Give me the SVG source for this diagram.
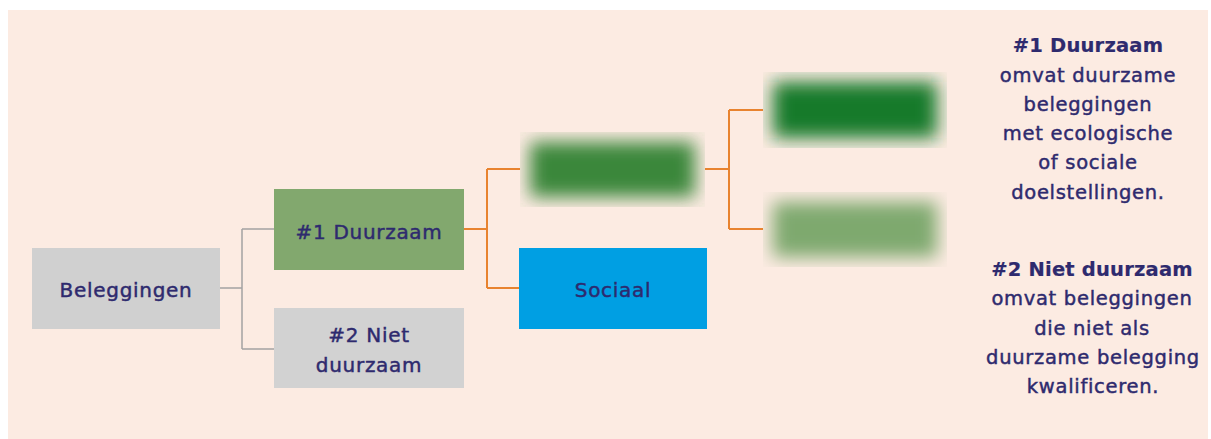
<svg xmlns="http://www.w3.org/2000/svg" width="1211" height="439" viewBox="0 0 1211 439">
<style>
.t{font-family:"DejaVu Sans","Liberation Sans",sans-serif;font-size:20px;fill:#2E2A6E;stroke:#2E2A6E;stroke-width:0.45px;text-anchor:middle;letter-spacing:0.7px}
.d{font-family:"DejaVu Sans","Liberation Sans",sans-serif;font-size:19.5px;fill:#2E2A6E;stroke:#2E2A6E;stroke-width:0.45px;text-anchor:middle;letter-spacing:0.7px}
.b{font-weight:bold;letter-spacing:0.2px;stroke-width:0.2px}
.gray{fill:none;stroke:#A3A3A3;stroke-width:1.5}
.orange{fill:none;stroke:#E8832F;stroke-width:2}
</style>
<defs>
<filter id="blur1" filterUnits="userSpaceOnUse" x="520" y="132" width="185" height="75"><feGaussianBlur stdDeviation="9"/></filter>
<filter id="blur2" filterUnits="userSpaceOnUse" x="763" y="72" width="184" height="76"><feGaussianBlur stdDeviation="9"/></filter>
<filter id="blur3" filterUnits="userSpaceOnUse" x="763" y="192" width="184" height="75"><feGaussianBlur stdDeviation="9"/></filter>
</defs>
<rect x="0" y="0" width="1211" height="439" fill="#FFFFFF"/>
<rect x="8" y="10" width="1200" height="429" fill="#FCEBE2"/>
<g id="connectors">
<path class="gray" d="M220 288 H242 M242 229 V349 M242 229 H274 M242 349 H274"/>
<path class="orange" d="M464 229 H487 M487 169 V288 M487 169 H520 M487 288 H519"/>
<path class="orange" d="M705 169 H729 M729 110 V229 M729 110 H763 M729 229 H763"/>
</g>
<g id="node-beleggingen">
<rect x="32" y="248" width="188" height="81" fill="#D0D0D0"/>
<text class="t" x="126" y="297">Beleggingen</text>
</g>
<g id="node-duurzaam">
<rect x="274" y="189" width="190" height="81" fill="#82A86E"/>
<text class="t" x="369" y="239">#1 Duurzaam</text>
</g>
<g id="node-niet-duurzaam">
<rect x="274" y="308" width="190" height="80" fill="#D2D2D2"/>
<text class="t" x="369" y="342">#2 Niet</text>
<text class="t" x="369" y="372">duurzaam</text>
</g>
<g id="node-blur-1">
<rect x="530" y="142" width="165" height="55" fill="#3A873A" filter="url(#blur1)"/>
</g>
<g id="node-sociaal">
<rect x="519" y="248" width="188" height="81" fill="#009FE3"/>
<text class="t" x="613" y="297">Sociaal</text>
</g>
<g id="node-blur-2">
<rect x="773" y="82" width="164" height="56" fill="#127A29" filter="url(#blur2)"/>
</g>
<g id="node-blur-3">
<rect x="773" y="202" width="164" height="55" fill="#7EA96E" filter="url(#blur3)"/>
</g>
<g id="legend">
<text class="d b" x="1088" y="52">#1 Duurzaam</text>
<text class="d" x="1088" y="82">omvat duurzame</text>
<text class="d" x="1088" y="111">beleggingen</text>
<text class="d" x="1088" y="140">met ecologische</text>
<text class="d" x="1088" y="169">of sociale</text>
<text class="d" x="1088" y="199">doelstellingen.</text>
<text class="d b" x="1092" y="276">#2 Niet duurzaam</text>
<text class="d" x="1092" y="305">omvat beleggingen</text>
<text class="d" x="1092" y="335">die niet als</text>
<text class="d" x="1093" y="364">duurzame belegging</text>
<text class="d" x="1093" y="393">kwalificeren.</text>
</g>
</svg>
